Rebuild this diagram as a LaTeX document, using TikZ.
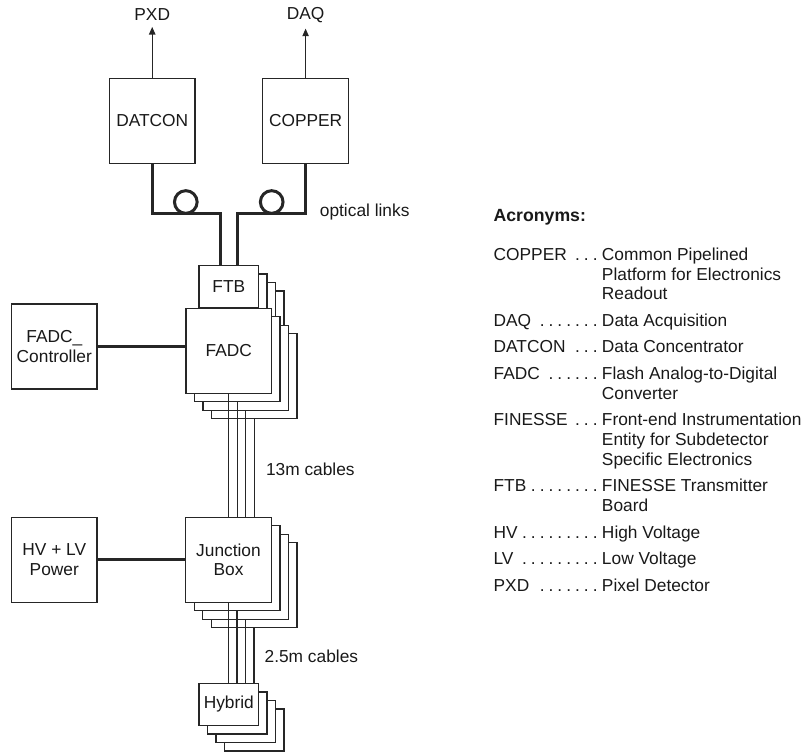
\documentclass[tikz,border=0pt]{standalone}
\usepackage{fontspec}
\setmainfont{Liberation Sans}
\usetikzlibrary{arrows.meta,positioning}
\newcommand\acrdots{\leavevmode\leaders\hbox to 5.3pt{\hss.\hss}\hskip 0pt plus 1fill\kern0pt}

\begin{document}
\begin{tikzpicture}[
    x=0.6pt, y=-0.6pt,
    every node/.style={font=\fontsize{10.4}{11.9}\selectfont, text=black!90},
    box/.style={rectangle, draw=black!85, line width=0.8pt, fill=white, align=center, inner sep=0pt},
    bigbox/.style={box, minimum width=51.4pt, minimum height=51pt},
    smallbox/.style={box, minimum width=35.8pt, minimum height=25.3pt},
    thickline/.style={draw=black!85, line width=1.8pt},
    cable/.style={draw=black!85, line width=0.8pt},
    arrow/.style={-{Triangle[length=4.6pt, width=3.8pt]}, draw=black!85, line width=0.8pt}
]
\useasboundingbox (0,0) rectangle (809,753);

% readout side
\node[bigbox] (datcon) at (152.2,120.8) {DATCON};
\node[bigbox] (copper) at (305.6,120.8) {COPPER};
\node (pxd) at (152.2,15) {PXD};
\node (daq) at (305.6,15) {DAQ};
\draw[arrow] (datcon) -- (pxd);
\draw[arrow] (copper) -- (daq);

% stacked FTB/FADC boards
\foreach \i in {3,2,1} {
    \node[smallbox] (ftb\i) at (228.8+8.5*\i,286.7+8.5*\i) {};
    \node[bigbox] (fadc\i) at (228.8+8.5*\i,350.8+8.5*\i) {};
}
\node[smallbox] (ftb) at (228.8,286.7) {FTB};
\node[bigbox] (fadc) at (228.8,350.8) {FADC};
\node[bigbox] (ctrl) at (54.3,346.5) {FADC\_\\Controller};

% stacked junction boxes
\foreach \i in {3,2,1}
    \node[bigbox] (jbox\i) at (228.5+8.5*\i,559.8+8.5*\i) {};
\node[bigbox] (jbox) at (228.5,559.8) {Junction\\Box};
\node[bigbox] (power) at (54.3,559.8) {HV + LV\\Power};

% stacked hybrids
\foreach \i in {3,2,1}
    \node[smallbox] (hybrid\i) at (228.8+8.5*\i,704.5+8.5*\i) {};
\node[smallbox] (hybrid) at (228.8,704.5) {Hybrid};

% optical links
\coordinate (bendl) at (220.3,213);
\coordinate (bendr) at (237.3,213);
\draw[thickline] (datcon.south) |- (bendl) -- (bendl |- ftb.north);
\draw[thickline] (copper.south) |- (bendr) -- (bendr |- ftb.north);
\draw[thickline] (185.8,202) circle[radius=6.8pt];
\draw[thickline] (271.7,202) circle[radius=6.8pt];
\node[anchor=base west] (optlbl) at (314,216) {optical links};

% power and control
\draw[thickline] (ctrl) -- (ctrl -| fadc.west);
\draw[thickline] (power) -- (power -| jbox.west);

% cables
\foreach \n in {fadc,fadc1,fadc2,fadc3}
    \draw[cable] (\n.south) -- (\n.south |- jbox.north);
\foreach \n in {jbox,jbox1,jbox2,jbox3}
    \draw[cable] (\n.south) -- (\n.south |- hybrid.north);
\node[anchor=base west, inner sep=0pt] (longlbl) at (265.7,475.5) {13m cables};
\node[anchor=base west, inner sep=0pt] (shortlbl) at (264.3,662.8) {2.5m cables};

% acronyms
\node[anchor=base west, inner sep=0pt, font=\fontsize{10.6}{11.9}\selectfont\bfseries] (acrtitle) at (493.3,221) {Acronyms:};
\node[anchor=base west, inner sep=0pt] (acrlist) at (493.3,260.2) {%
\begin{tabular}[t]{@{}p{65pt}@{}p{124pt}@{}}
COPPER\acrdots & Common Pipelined\newline Platform for Electronics\newline Readout\\[4pt]
DAQ\acrdots & Data Acquisition\\[4pt]
DATCON\acrdots & Data Concentrator\\[4pt]
FADC\acrdots & Flash Analog-to-Digital\newline Converter\\[4pt]
FINESSE\acrdots & Front-end Instrumentation\newline Entity for Subdetector\newline Specific Electronics\\[4pt]
FTB\acrdots & FINESSE Transmitter\newline Board\\[4pt]
HV\acrdots & High Voltage\\[4pt]
LV\acrdots & Low Voltage\\[4pt]
PXD\acrdots & Pixel Detector
\end{tabular}};
\end{tikzpicture}
\end{document}
